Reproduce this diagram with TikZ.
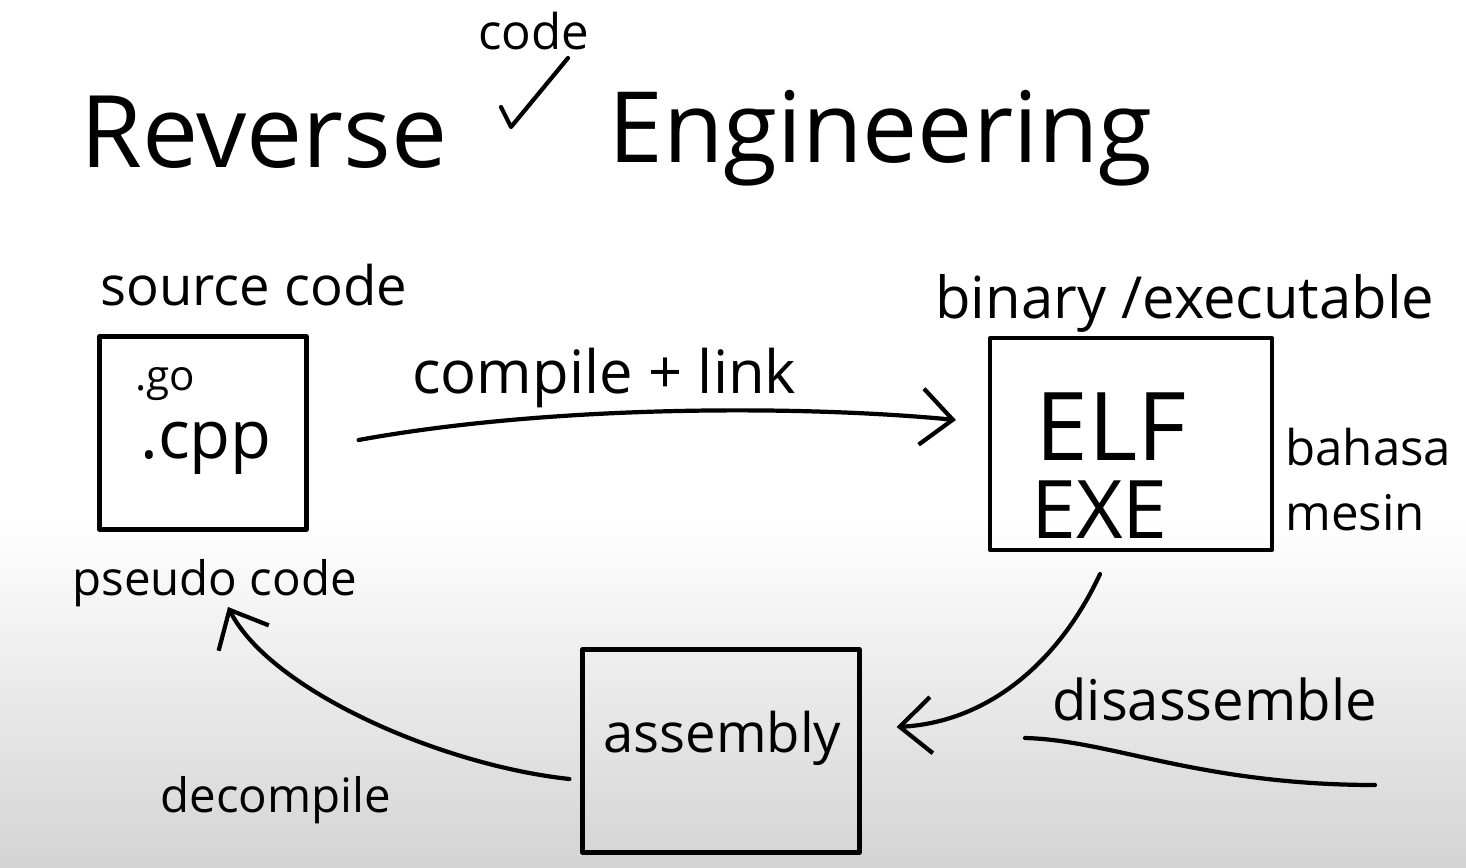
\documentclass[tikz,border=0pt]{standalone}
\usepackage{fontspec}
\setmainfont{Open Sans}
\usetikzlibrary{arrows.meta,calc}

\newcommand{\fsz}[1]{\fontsize{#1}{#1}\selectfont}

\begin{document}
\begin{tikzpicture}[x=0.02cm,y=-0.02cm,
	ink/.style={line width=2.4pt,line cap=round,line join=round},
	flow/.style={ink,-{Straight Barb[length=18pt,width=32pt,line width=2.4pt]}},
	box/.style={ink,draw,rectangle,inner sep=0pt},
	lbl/.style={anchor=base west,inner sep=0pt}]
	% paper
	\useasboundingbox (0,0) rectangle (1466,868);
	\fill[white] (0,0) rectangle (1466,868);
	\shade[top color=white,bottom color=black!17] (0,520) rectangle (1466,868);
	% title
	\node[lbl] (rev) at (80,168) {\fsz{57pt}Reverse};
	\node[lbl] (eng) at (608,163) {\fsz{56pt}Engineering};
	\node[lbl] (ins) at (478,50) {\fsz{28pt}code};
	\draw[ink] (501,107) -- (511,127) -- (568,58);
	% boxes
	\node[box,minimum width=4.14cm,minimum height=3.86cm] (src) at (203,433) {};
	\node[box,minimum width=5.64cm,minimum height=4.24cm] (elf) at (1131,444) {};
	\node[box,minimum width=5.54cm,minimum height=4.06cm] (asm) at (721,751) {};
	% labels
	\node[lbl] (srclbl) at (100,305) {\fsz{31pt}source code};
	\node[lbl] (go) at (135,390) {\fsz{24pt}.go};
	\node[lbl] (cpp) at (140,458) {\fsz{38pt}.cpp};
	\node[lbl] (pseudo) at (72,595) {\fsz{27pt}pseudo code};
	\node[lbl] (binlbl) at (935,318) {\fsz{33pt}binary /executable};
	\node[lbl,text depth=0pt] (elftxt) at (1035,460) {\fsz{54pt}ELF};
	\node[lbl,text height=34pt] (exetxt) at (1031,538) {\fsz{46pt}EXE};
	\node[lbl] (bahasa) at (1285,465) {\fsz{28pt}bahasa};
	\node[lbl] (mesin) at (1285,530) {\fsz{28pt}mesin};
	\node[lbl] (asmtxt) at (603,752) {\fsz{31pt}assembly};
	\node[lbl] (cl) at (412,393) {\fsz{34pt}compile + link};
	\node[lbl] (dis) at (1052,720) {\fsz{32pt}disassemble};
	\node[lbl] (dec) at (160,812) {\fsz{27pt}decompile};
	\coordinate (pin) at (228,607);
	% arrows
	\draw[flow] ($(src.east)+(50,7)$) .. controls (550,405) and (800,405) .. ($(elf.west)+(-32,-24)$);
	\draw[flow] ($(elf.south)+(-31,22)$) .. controls (1060,660) and (990,722) .. ($(asm.east)+(35,-24)$);
	\draw[flow] ($(asm.west)+(-11,28)$) .. controls (440,765) and (270,690) .. (pin);
	\draw[ink] (1025,738) .. controls (1110,740) and (1200,785) .. (1375,785);
\end{tikzpicture}
\end{document}
